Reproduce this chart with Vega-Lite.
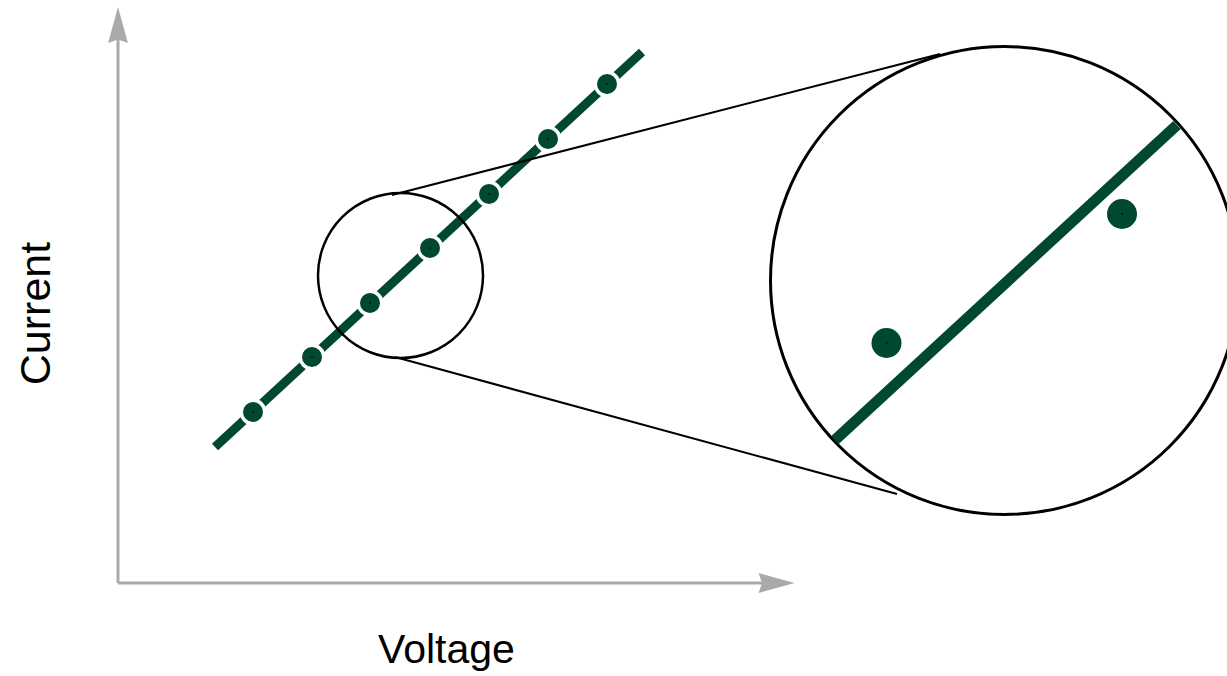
{
  "$schema": "https://vega.github.io/schema/vega-lite/v6.json",
  "width": 1227,
  "height": 676,
  "padding": 0,
  "autosize": {"type": "none"},
  "background": "white",
  "config": {"view": {"stroke": null}},
  "encoding": {
    "x": {"field": "x", "type": "quantitative", "scale": {"domain": [-118, 1109], "nice": false, "zero": false}, "axis": null},
    "y": {"field": "y", "type": "quantitative", "scale": {"domain": [-93, 583], "nice": false, "zero": false}, "axis": null}
  },
  "layer": [
    {
      "data": {"values": [
        {"axis": "Current", "x": 0, "y": 0, "x2": 0, "y2": 555},
        {"axis": "Voltage", "x": 0, "y": 0, "x2": 662, "y2": 0}
      ]},
      "mark": {"type": "rule", "color": "#aaaaaa", "strokeWidth": 3},
      "encoding": {"x2": {"field": "x2"}, "y2": {"field": "y2"}}
    },
    {
      "data": {"values": [{"axis": "Current", "x": 0, "y": 558}]},
      "mark": {"type": "point", "shape": "M0,-1L0.55,1L0,0.8L-0.55,1Z", "filled": true, "color": "#aaaaaa", "opacity": 1, "size": 1296, "angle": 0}
    },
    {
      "data": {"values": [{"axis": "Voltage", "x": 658.5, "y": 0}]},
      "mark": {"type": "point", "shape": "M0,-1L0.55,1L0,0.8L-0.55,1Z", "filled": true, "color": "#aaaaaa", "opacity": 1, "size": 1296, "angle": 90}
    },
    {
      "data": {"values": [
        {"x": 97, "y": 136},
        {"x": 524, "y": 531}
      ]},
      "mark": {"type": "line", "color": "#00482e", "strokeWidth": 9, "strokeCap": "butt"}
    },
    {
      "data": {"values": [
        {"x": 135, "y": 171}, {"x": 194, "y": 226}, {"x": 252, "y": 280},
        {"x": 312, "y": 335}, {"x": 371, "y": 389}, {"x": 430, "y": 444}, {"x": 489, "y": 499}
      ]},
      "layer": [
        {"mark": {"type": "point", "filled": true, "color": "white", "opacity": 1, "size": 729}},
        {"mark": {"type": "point", "filled": true, "color": "#00482e", "opacity": 1, "size": 400}},
        {"mark": {"type": "point", "filled": true, "color": "black", "opacity": 1, "size": 3}}
      ]
    },
    {
      "data": {"values": [
        {"x": 274, "y": 388, "x2": 822, "y2": 529},
        {"x": 277, "y": 226, "x2": 779, "y2": 89}
      ]},
      "mark": {"type": "rule", "color": "black", "strokeWidth": 2},
      "encoding": {"x2": {"field": "x2"}, "y2": {"field": "y2"}}
    },
    {
      "data": {"values": [{"x": 282.5, "y": 307.5}]},
      "mark": {"type": "point", "filled": false, "stroke": "black", "strokeWidth": 2.5, "opacity": 1, "size": 27225}
    },
    {
      "data": {"values": [{"x": 886.5, "y": 302.5}]},
      "mark": {"type": "point", "filled": false, "stroke": "black", "strokeWidth": 3, "opacity": 1, "size": 219024}
    },
    {
      "data": {"values": [
        {"x": 717, "y": 143},
        {"x": 1059, "y": 458}
      ]},
      "mark": {"type": "line", "color": "#00482e", "strokeWidth": 11, "strokeCap": "butt"}
    },
    {
      "data": {"values": [
        {"x": 768.5, "y": 240},
        {"x": 1004, "y": 369}
      ]},
      "layer": [
        {"mark": {"type": "point", "filled": true, "color": "#00482e", "opacity": 1, "size": 900}},
        {"mark": {"type": "point", "filled": true, "color": "black", "opacity": 1, "size": 3}}
      ]
    },
    {
      "data": {"values": [{"label": "Voltage", "x": 328.5, "y": -80}]},
      "mark": {"type": "text", "font": "Liberation Sans", "fontSize": 41, "color": "black", "align": "center", "baseline": "alphabetic"},
      "encoding": {"text": {"field": "label"}}
    },
    {
      "data": {"values": [{"label": "Current", "x": -68, "y": 269.5}]},
      "mark": {"type": "text", "font": "Liberation Sans", "fontSize": 43, "color": "black", "align": "center", "baseline": "alphabetic", "angle": 270},
      "encoding": {"text": {"field": "label"}}
    }
  ]
}
